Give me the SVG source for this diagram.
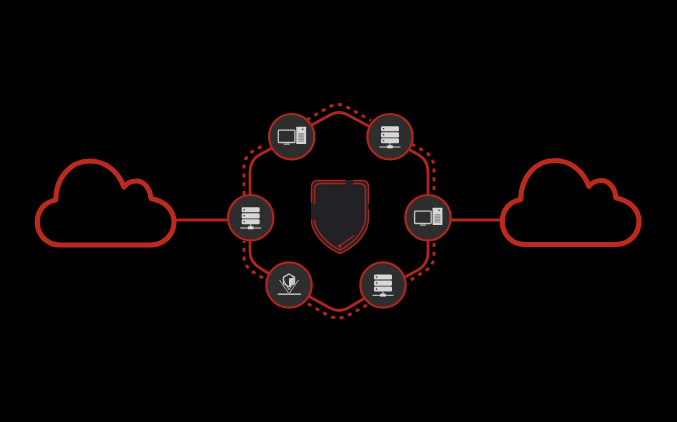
<svg xmlns="http://www.w3.org/2000/svg" width="677" height="422" viewBox="0 0 677 422">
<style>
.solid{fill:none;stroke:#b0261d;stroke-width:2.8;stroke-linecap:round;stroke-linejoin:round}
.dots{fill:none;stroke:#b0261d;stroke-width:3;stroke-dasharray:4 4.8}
.link{fill:none;stroke:#b0261d;stroke-width:2.8}
.cloud{fill:none;stroke:#bb2a1f;stroke-width:5.2;stroke-linejoin:round}
.disc{fill:#2e2d2f;stroke:#b0261d;stroke-width:2.2}
.ic{fill:#d6d6d6}
.il{fill:none;stroke:#c8c8c8;stroke-width:1.3}
.sh{fill:none;stroke:#a8251c;stroke-width:1.5;stroke-linecap:round}
</style>
<defs>
<filter id="soft" x="-5%" y="-5%" width="110%" height="110%"><feGaussianBlur stdDeviation="0.45"/></filter>
<path id="cloudShape" d="M60 245H150C164 245 174 235 174 222C174 209 164 201 151 198.500C150 188 144 181 136.500 181C131 181 127 183 124 187C118 171 105 161 90 161C70 161 56 178 55.700 200C45 202 37.300 210 37.300 222C37.300 235 47 245 60 245Z"/>
<g id="server">
<rect class="ic" x="-9" y="-10.500" width="18" height="5" rx="1.300"/>
<rect class="ic" x="-9" y="-4.500" width="18" height="5.300" rx="1.300"/>
<rect class="ic" x="-9" y="1.600" width="18" height="5" rx="1.300"/>
<circle cx="-6.500" cy="-8" r="0.800" fill="#2e2d2f"/>
<circle cx="-6.500" cy="-1.900" r="0.800" fill="#2e2d2f"/>
<circle cx="-6.500" cy="4.100" r="0.800" fill="#2e2d2f"/>
<rect class="ic" x="-0.500" y="6.500" width="1" height="3"/>
<rect class="ic" x="-10.500" y="9.800" width="21" height="1"/>
<rect class="ic" x="-2.800" y="8.600" width="5.600" height="3"/>
</g>
<g id="computer">
<rect class="il" x="-13.400" y="-6.600" width="16.600" height="12.400" rx="0.800"/>
<rect class="ic" x="-8" y="6.900" width="6" height="1"/>
<rect class="ic" x="4.600" y="-10" width="9.800" height="17.400" rx="0.500"/>
<path d="M6.500 -3H12.500M6.500 -1.500H12.500M6.500 0H12.500M6.500 1.500H12.500M6.500 3H12.500M6.500 4.500H12.500" stroke="#77767a" stroke-width="0.800" fill="none"/>
<circle cx="11" cy="-7.500" r="0.800" fill="#2e2d2f"/>
</g>
</defs>
<rect width="677" height="422" fill="#000"/>
<g filter="url(#soft)">
<g id="connectors">
<path class="link" d="M174 220H232"/>
<path class="link" d="M450 220H503"/>
<path class="solid" d="M311.700 125L331 114.500Q339 110.500 347 114.500L370 126.700"/>
<path class="solid" d="M410 150L418 154.500Q428 160 428 172V196"/>
<path class="solid" d="M428 240V253Q428 264 418 270L405 277"/>
<path class="solid" d="M365 298L348 308Q339 313 330 308L310 297"/>
<path class="solid" d="M268 273L260 268Q250 262 250 252V240"/>
<path class="solid" d="M250 196V172Q250 160 260 154.500L272 148"/>
<path class="dots" d="M306.700 120L329 107Q338 102 347 107L371 120.500"/>
<path class="dots" d="M411.700 144L424 151Q434 157 434 168V196"/>
<path class="dots" d="M434 243V256Q434 265 425 271L409 281"/>
<path class="dots" d="M367 305L347 316Q338 320 329 316L305 302"/>
<path class="dots" d="M263 278L253 272Q244 266 244 257V241"/>
<path class="dots" d="M244 195V167Q244 157 253 151L266 144"/>
</g>
<g id="cloud-left"><use href="#cloudShape" class="cloud"/></g>
<g id="cloud-right"><use href="#cloudShape" class="cloud" transform="translate(465,-0.500)"/></g>
<g id="shield">
<path d="M318 180H362Q369 180 369 187V218C369 232 357 246 340 254C323 246 311 232 311 218V187Q311 180 318 180Z" fill="#232225"/>
<path class="sh" d="M311.500 202V187Q311.500 180.500 318 180.500H345M353 180.500H362Q368.500 180.500 368.500 187V203M368.500 210V218C368.500 232 357 246 340 253.500C323 246 311.500 232 311.500 220"/>
<path class="sh" d="M314.500 204V190Q314.500 183.500 321 183.500H345M354 183.500H359Q365.500 183.500 365.500 190V217C365.500 229 355 243 340 250C325 243 314.500 229 314.500 220"/>
<path class="sh" d="M340 245.500L353.500 236"/>
<circle cx="340" cy="246" r="1.700" fill="#b0261d"/>
</g>
<g id="node-top-left"><circle class="disc" cx="291.700" cy="136.700" r="22.700"/><use href="#computer" x="291.700" y="136.700"/></g>
<g id="node-top-right"><circle class="disc" cx="390" cy="136.700" r="22.700"/><use href="#server" x="390" y="136.700"/></g>
<g id="node-right"><circle class="disc" cx="428" cy="217.700" r="22.700"/><use href="#computer" x="428" y="217.700"/></g>
<g id="node-bottom-right"><circle class="disc" cx="383" cy="285" r="22.700"/><use href="#server" x="383" y="285"/></g>
<g id="node-left"><circle class="disc" cx="250.700" cy="217.700" r="22.700"/><use href="#server" x="250.700" y="217.700"/></g>
<g id="node-bottom-left"><circle class="disc" cx="289" cy="285" r="22.700"/>
<path d="M289 274L294.500 277.200V283.600L289 286.800L283.500 283.600V277.200Z" fill="none" stroke="#cfcfcf" stroke-width="1.300"/>
<path d="M289 278.500L294.500 277.200V283.600L289 286.800Z" fill="#cfcfcf"/>
<path d="M279.500 280L288.500 293M298.500 280L289.500 293" fill="none" stroke="#b5b5b5" stroke-width="1"/>
<path d="M283 279L289 290M295 279L289 290" fill="none" stroke="#b5b5b5" stroke-width="1"/>
<rect class="ic" x="277.700" y="293.500" width="23.300" height="1.300"/>
</g>
</g>
</svg>
